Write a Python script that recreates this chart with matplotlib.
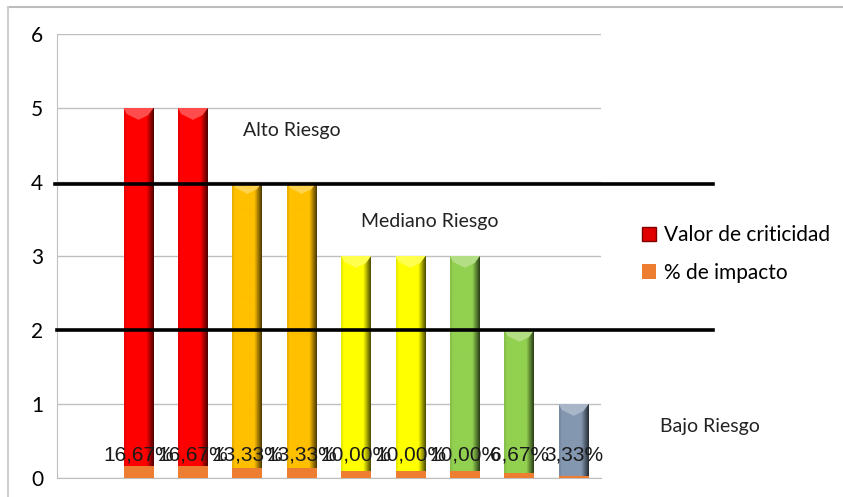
import numpy as np
import matplotlib
matplotlib.use("Agg")
import matplotlib.pyplot as plt
from matplotlib.colors import to_rgb
from matplotlib.patches import Polygon, Patch
from matplotlib.lines import Line2D

# criticidad y porcentaje de impacto por riesgo
posiciones = [1, 2, 3, 4, 5, 6, 7, 8, 9]
criticidad = [5, 5, 4, 4, 3, 3, 3, 2, 1]
impacto_pct = [16.67, 16.67, 13.33, 13.33, 10.00, 10.00, 10.00, 6.67, 3.33]
colores = ["#FF0000", "#FF0000", "#FFC000", "#FFC000", "#FFFF00",
           "#FFFF00", "#92D050", "#92D050", "#8497B0"]
color_impacto = "#ED7D31"

fuente = ["Lato", "DejaVu Sans"]
fuente_etiquetas = ["Liberation Sans", "DejaVu Sans"]

fig = plt.figure(figsize=(8.43, 4.97), dpi=100)
ax = fig.add_axes([57 / 843, 1 - 478 / 497, 544 / 843, 444 / 497])

ancho = 0.55
barras = ax.bar(posiciones, criticidad, width=ancho, color=colores, zorder=2)


def sombrear(rect, color):
    """degradado horizontal + chaflan superior para dar relieve a la barra"""
    x0 = rect.get_x()
    w = rect.get_width()
    h = rect.get_height()
    base = np.array(to_rgb(color))
    u = np.linspace(0, 1, 60)
    f = np.ones_like(u)
    f[u > 0.75] = 1 - (u[u > 0.75] - 0.75) / 0.25 * 0.7
    f[u < 0.06] = 0.92
    img = np.clip(base[None, None, :] * f[None, :, None], 0, 1)
    img = np.repeat(img, 2, axis=0)
    ax.imshow(img, extent=(x0, x0 + w, 0, h), aspect="auto",
              interpolation="bilinear", zorder=2.1)
    claro = base + (1 - base) * 0.3
    d = 0.16
    tri = Polygon([(x0, h), (x0 + w, h), (x0 + w * 0.82, h - d * 0.6),
                   (x0 + w / 2, h - d), (x0 + w * 0.1, h - d * 0.5)],
                  closed=True, facecolor=claro, edgecolor="none", zorder=2.2)
    ax.add_patch(tri)


for rect, c in zip(barras, colores):
    sombrear(rect, c)

impacto = [v / 100 for v in impacto_pct]
barras_imp = ax.bar(posiciones, impacto, width=ancho, color=color_impacto, zorder=3)
for rect, v in zip(barras_imp, impacto_pct):
    etiqueta = f"{v:.2f}%".replace(".", ",")
    ax.text(rect.get_x() + rect.get_width() / 2, 0.31, etiqueta,
            ha="center", va="center", fontsize=15, family=fuente_etiquetas,
            color="#1a1a1a", zorder=5)

ax.set_xlim(-0.5, 9.5)
ax.set_ylim(0, 6)
ax.set_yticks(range(0, 7))
ax.set_xticks([])
ax.yaxis.grid(True, color="#BFBFBF", lw=1)
ax.set_axisbelow(True)
for lado in ["top", "right"]:
    ax.spines[lado].set_visible(False)
for lado in ["left", "bottom"]:
    ax.spines[lado].set_color("#BFBFBF")
ax.tick_params(axis="y", length=0, pad=10, labelsize=15)
for t in ax.get_yticklabels():
    t.set_family(fuente)

# limites de zona de riesgo
ax.plot([-0.54, 11.56], [3.97, 3.97], color="black", lw=2.6, clip_on=False, zorder=4)
ax.plot([-0.5, 11.56], [2.0, 2.0], color="black", lw=2.6, clip_on=False, zorder=4)

ax.text(2.92, 4.69, "Alto Riesgo", fontsize=14, family=fuente, va="center", color="#222222")
ax.text(5.09, 3.47, "Mediano Riesgo", fontsize=14, family=fuente, va="center", color="#222222")
ax.text(10.58, 0.70, "Bajo Riesgo", fontsize=14, family=fuente, va="center", color="#222222")

manejadores = [Patch(facecolor="#E00000", edgecolor="#800000"),
               Patch(facecolor=color_impacto)]
fig.legend(manejadores, ["Valor de criticidad", "% de impacto"],
           loc="center left", bbox_to_anchor=(623 / 843, 1 - 254 / 497),
           frameon=False, handlelength=0.7, handleheight=0.7, handletextpad=0.35,
           labelspacing=0.85, prop={"family": fuente, "size": 15})

# marco exterior
fig.add_artist(Line2D([8 / 843, 1], [1 - 7 / 497, 1 - 7 / 497], color="#BDBDBD", lw=1.5))
fig.add_artist(Line2D([8 / 843, 8 / 843], [0, 1 - 7 / 497], color="#D0D0D0", lw=1.5))

fig.savefig("out.png", dpi=100)
